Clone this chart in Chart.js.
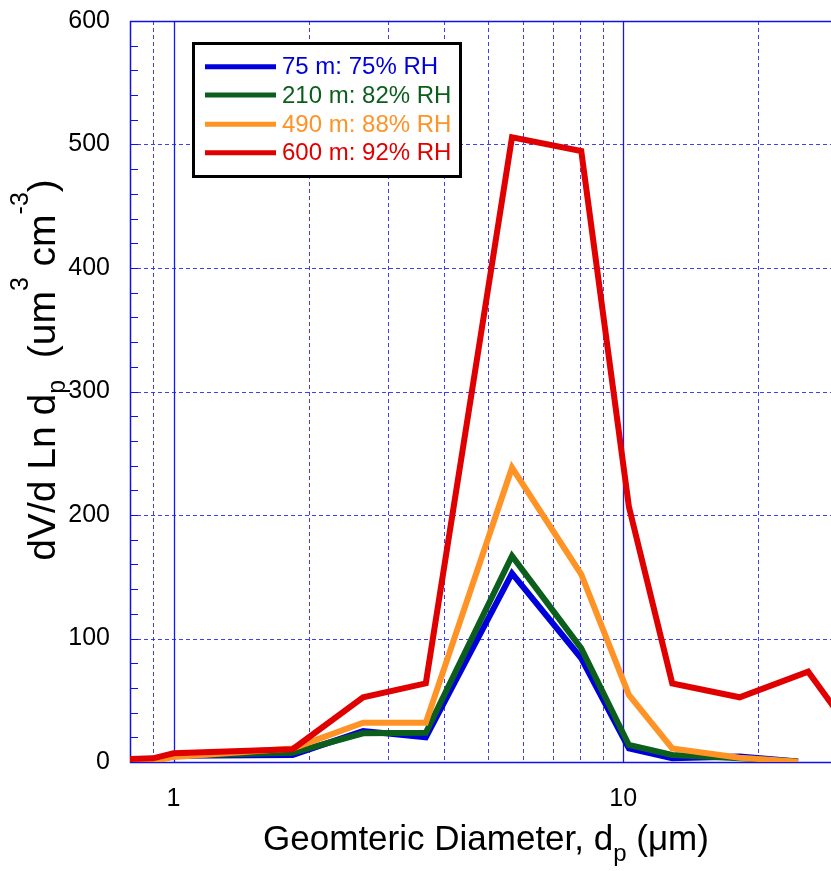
<!DOCTYPE html>
<html><head><meta charset="utf-8">
<script src="https://cdn.jsdelivr.net/npm/chart.js@4/dist/chart.umd.min.js"></script>
<style>html,body{margin:0;padding:0;background:#fff;overflow:hidden}canvas{display:block}</style>
</head><body>
<canvas id="c" width="831" height="871"></canvas>
<script>
// ---- data ----
const diameters = [0.8, 0.9, 1.0, 1.84, 2.64, 3.64, 5.66, 8.07, 10.3, 12.86, 18.16, 24.5];
const redDiameters = [0.8, 0.9, 1.0, 1.84, 2.64, 3.64, 5.66, 8.07, 10.3, 12.86, 18.16, 25.8, 34];
const rh75 = [0.5, 0.8, 5, 5.7, 25, 20, 152.8, 84, 11, 3, 4.5, 0.5];
const rh82 = [0.5, 1, 5, 7.5, 23.2, 23.7, 166.8, 92, 13.8, 5.7, 3, 0.5];
const rh88 = [0.5, 1, 4, 11, 31.8, 31.8, 238.3, 152, 54.3, 11, 3.5, 0.3];
const rh92 = [2.5, 3, 7, 10.3, 52.4, 63.7, 505.8, 494.7, 206.7, 63.7, 52.4, 73.1, 13];
const seriesLabels = ['75 m: 75% RH', '210 m: 82% RH', '490 m: 88% RH', '600 m: 92% RH'];
const xLabelTicks = [1, 10];
const xMinorGrid = [0.9, 2, 3, 4, 5, 6, 7, 8, 9, 20];
const yTicks = [0, 100, 200, 300, 400, 500, 600];

const FONT = '"Liberation Sans", Arial, Helvetica, sans-serif';
const COLORS = ['#0000dc', '#0b5e1c', '#ff9326', '#e00000'];

function pts(xs, ys) { return ys.map((v, i) => ({x: xs[i], y: v})); }

const frame = {
  id: 'frame',
  beforeDatasetsDraw(chart) {
    const {ctx, chartArea: a, scales: {x, y}} = chart;
    ctx.save();
    ctx.beginPath(); ctx.rect(a.left, a.top, a.right - a.left, a.bottom - a.top); ctx.clip();
    ctx.strokeStyle = 'rgba(30,30,235,0.85)'; ctx.lineWidth = 1; ctx.setLineDash([4, 3]);
    for (const v of xMinorGrid) {
      const px = Math.round(x.getPixelForValue(v)) + 0.5;
      ctx.beginPath(); ctx.moveTo(px, a.top); ctx.lineTo(px, a.bottom); ctx.stroke();
    }
    for (const v of yTicks) {
      if (v === 0 || v === 600) continue;
      const py = Math.round(y.getPixelForValue(v)) + 0.5;
      ctx.beginPath(); ctx.moveTo(a.left, py); ctx.lineTo(a.right, py); ctx.stroke();
    }
    ctx.setLineDash([]); ctx.strokeStyle = '#1515f5'; ctx.lineWidth = 1.3;
    for (const v of xLabelTicks) {
      const px = Math.round(x.getPixelForValue(v)) + 0.5;
      ctx.beginPath(); ctx.moveTo(px, a.top); ctx.lineTo(px, a.bottom); ctx.stroke();
    }
    ctx.restore();
    ctx.save();
    ctx.strokeStyle = '#1010e8'; ctx.lineWidth = 1.5;
    ctx.beginPath();
    ctx.moveTo(a.right, a.top + 0.5); ctx.lineTo(a.left + 0.5, a.top + 0.5);
    ctx.lineTo(a.left + 0.5, a.bottom + 0.5); ctx.lineTo(a.right, a.bottom + 0.5);
    ctx.stroke();
    ctx.lineWidth = 1;
    for (let v = 0; v <= 600; v += 20) {
      const py = Math.round(y.getPixelForValue(v)) + 0.5;
      ctx.beginPath(); ctx.moveTo(a.left, py); ctx.lineTo(a.left + 8, py); ctx.stroke();
    }
    ctx.restore();
  },
  afterDatasetsDraw(chart) {
    const {ctx} = chart;
    ctx.save();
    ctx.fillStyle = '#fff';
    ctx.fillRect(193, 43, 268, 134);
    ctx.strokeStyle = '#000'; ctx.lineWidth = 3;
    ctx.strokeRect(193.5, 43.5, 267, 133);
    const rows = [66.7, 95, 124.3, 152.7];
    chart.data.datasets.forEach((ds, i) => {
      ctx.strokeStyle = ds.borderColor; ctx.lineWidth = 5;
      ctx.beginPath(); ctx.moveTo(205, rows[i]); ctx.lineTo(276, rows[i]); ctx.stroke();
      ctx.fillStyle = ds.borderColor;
      ctx.font = '24px ' + FONT; ctx.textBaseline = 'middle'; ctx.textAlign = 'left';
      ctx.fillText(ds.label, 282, rows[i] + 1);
    });
    ctx.restore();
  },
  afterDraw(chart) {
    const {ctx} = chart;
    function rich(segs, cx, cy) {
      let total = 0;
      for (const s of segs) { ctx.font = s.s + 'px ' + FONT; total += ctx.measureText(s.t).width; }
      let x = cx - total / 2;
      for (const s of segs) {
        ctx.font = s.s + 'px ' + FONT;
        ctx.fillText(s.t, x, cy + (s.dy || 0));
        x += ctx.measureText(s.t).width;
      }
    }
    ctx.save();
    ctx.fillStyle = '#000'; ctx.textBaseline = 'alphabetic'; ctx.textAlign = 'left';
    rich([{t: 'Geomteric Diameter, d', s: 35}, {t: 'p', s: 24, dy: 11}, {t: ' (\u03bcm)', s: 35}], 486, 850);
    ctx.translate(55, 370); ctx.rotate(-Math.PI / 2);
    rich([{t: 'dV/d Ln d', s: 39}, {t: 'p', s: 25, dy: 10}, {t: '  (um', s: 39}, {t: '3', s: 25, dy: -27},
          {t: ' cm', s: 39}, {t: '-3', s: 25, dy: -27}, {t: ')', s: 39}], 0, 0);
    ctx.restore();
  }
};

const dsStyle = (c, order) => ({borderColor: c, backgroundColor: c, borderWidth: 6, pointRadius: 0,
  tension: 0, fill: false, borderJoinStyle: 'miter', borderCapStyle: 'butt', order});

new Chart(document.getElementById('c'), {
  type: 'line',
  data: {
    datasets: [
      {label: seriesLabels[0], data: pts(diameters, rh75), ...dsStyle(COLORS[0], 3)},
      {label: seriesLabels[1], data: pts(diameters, rh82), ...dsStyle(COLORS[1], 2)},
      {label: seriesLabels[2], data: pts(diameters, rh88), ...dsStyle(COLORS[2], 1)},
      {label: seriesLabels[3], data: pts(redDiameters, rh92), ...dsStyle(COLORS[3], 0)}
    ]
  },
  options: {
    responsive: false, animation: false, devicePixelRatio: 1,
    layout: {padding: {top: 21, left: 0, right: 0, bottom: 0}},
    plugins: {legend: {display: false}, tooltip: {enabled: false}},
    scales: {
      x: {
        type: 'logarithmic', min: 0.8, max: 29,
        afterBuildTicks: s => { s.ticks = xLabelTicks.map(v => ({value: v})); },
        afterFit: s => { s.height = 109; s.paddingLeft = 0; s.paddingRight = 0; },
        grid: {display: false, drawTicks: false}, border: {display: false},
        ticks: {autoSkip: false, maxRotation: 0, padding: 22, color: '#000',
          font: {size: 25, family: FONT}, callback: v => String(v)}
      },
      y: {
        min: 0, max: 600,
        afterBuildTicks: s => { s.ticks = yTicks.map(v => ({value: v})); },
        afterFit: s => { s.width = 130; s.paddingTop = 0; s.paddingBottom = 0; },
        grid: {display: false, drawTicks: false}, border: {display: false},
        ticks: {padding: 20, color: '#000', font: {size: 25, family: FONT}}
      }
    }
  },
  plugins: [frame]
});
</script>
</body></html>
